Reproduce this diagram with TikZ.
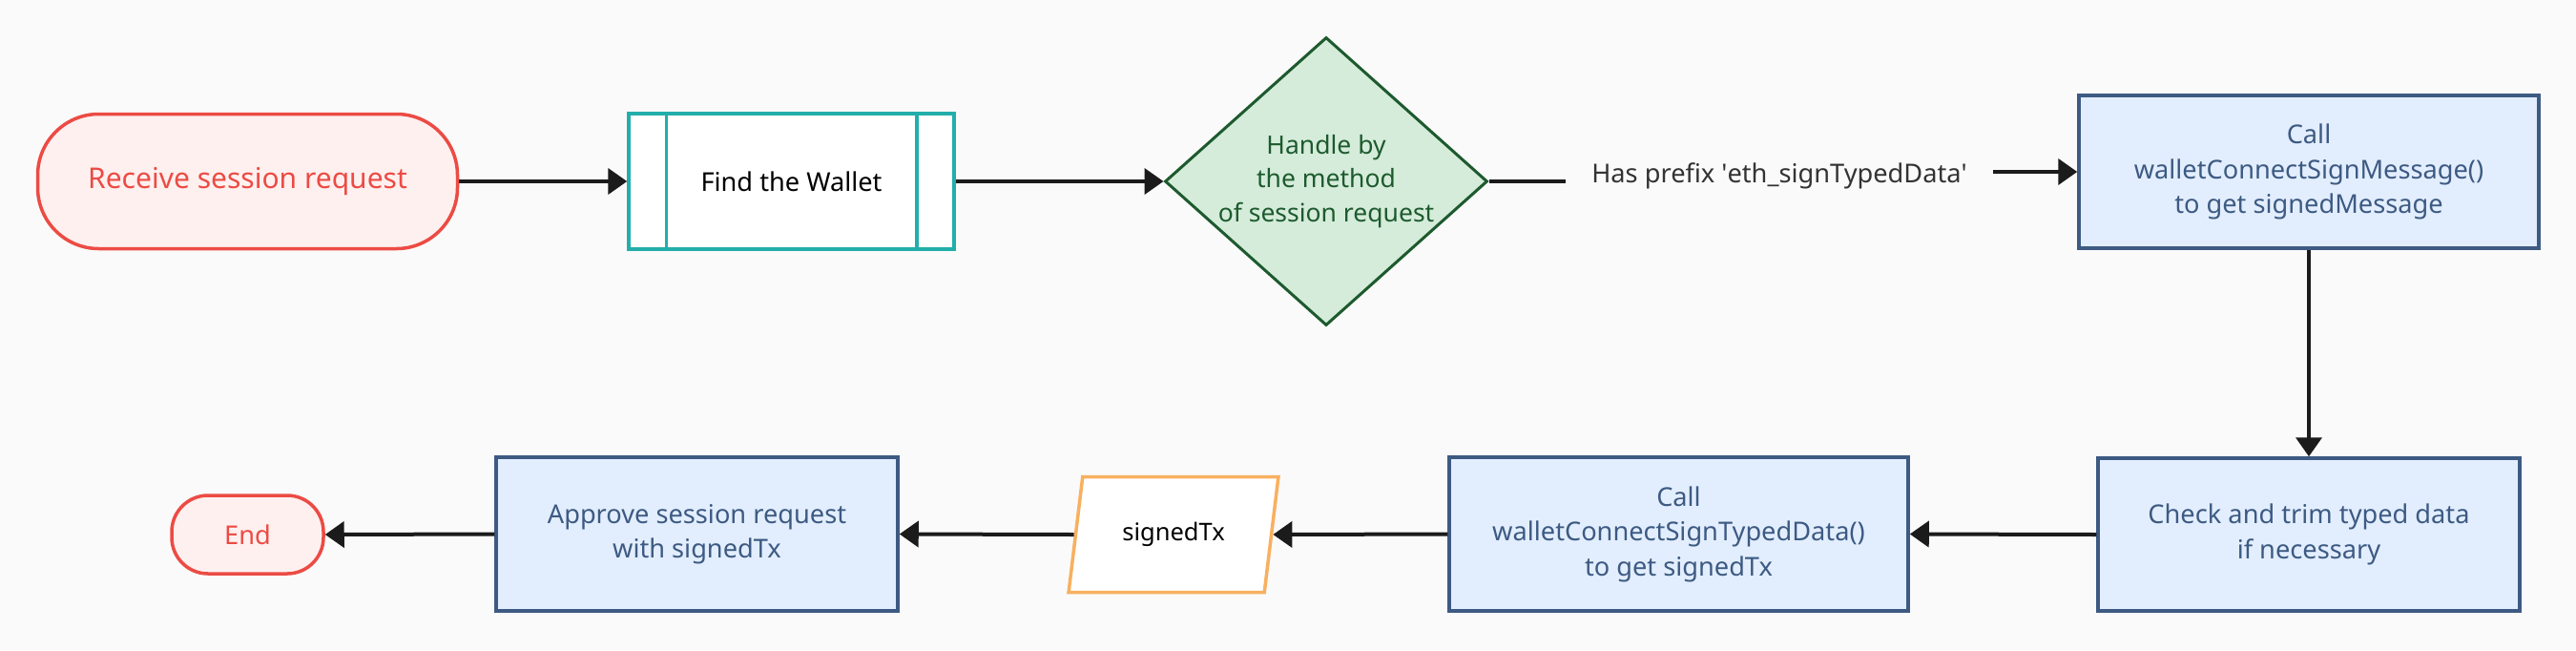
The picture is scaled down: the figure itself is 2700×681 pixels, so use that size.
\documentclass[tikz,border=0pt]{standalone}
\usepackage{fontspec}
\setmainfont{Noto Sans}
\usetikzlibrary{shapes.geometric,arrows.meta}
\definecolor{bgc}{HTML}{FAFAFA}
\definecolor{termred}{HTML}{EC4B44}
\definecolor{termfill}{HTML}{FEF0EF}
\definecolor{tealc}{HTML}{22AEAA}
\definecolor{greenc}{HTML}{1D5A2E}
\definecolor{greenfill}{HTML}{D5ECDA}
\definecolor{bluec}{HTML}{3D5A82}
\definecolor{bluefill}{HTML}{E2EEFE}
\definecolor{orangec}{HTML}{F8B060}
\definecolor{arrowc}{HTML}{1B1B1B}
\definecolor{lblc}{HTML}{333333}
\begin{document}
\begin{tikzpicture}[x=1pt,y=-1pt,
  every node/.style={font=\fontsize{27.2}{36.5}\selectfont, inner sep=0pt, align=center},
  term/.style={rectangle, draw=termred, fill=termfill, text=termred, line width=3.5pt},
  procbox/.style={rectangle, draw=bluec, fill=bluefill, text=bluec, line width=3.5pt},
  subproc/.style={rectangle, draw=tealc, fill=white, text=black, line width=3.5pt,
    minimum width=341pt, minimum height=142pt},
  subline/.style={draw=tealc, line width=3.5pt},
  decision/.style={diamond, draw=greenc, fill=greenfill, line width=3pt,
    minimum width=338pt, minimum height=302pt},
  dtext/.style={text=greenc, font=\fontsize{26.5}{35.5}\selectfont},
  lbl/.style={text=lblc, inner xsep=27pt, inner ysep=4pt},
  para/.style={trapezium, trapezium left angle=72, trapezium right angle=108,
    trapezium stretches=true, minimum width=220pt, minimum height=121pt,
    draw=orangec, fill=white, text=black, line width=3.5pt,
    font=\fontsize{25.5}{34}\selectfont},
  conn/.style={draw=arrowc, line width=4pt},
  arr/.style={conn, -{Triangle[length=20pt,width=27pt]}}
]
\useasboundingbox[fill=bgc] (0,0) rectangle (2700,681);

% top row
\node[term, minimum width=440pt, minimum height=141pt, rounded corners=64pt,
  font=\fontsize{30}{36}\selectfont] (start) at (259.5,190) {Receive session request};
\node[subproc] (wal) at (829.5,190) {Find the Wallet};
\draw[subline] ([xshift=41pt]wal.north west) -- ([xshift=41pt]wal.south west);
\draw[subline] ([xshift=-41pt]wal.north east) -- ([xshift=-41pt]wal.south east);
\node[decision] (dec) at (1390,190) {};
\node[dtext] (dect) at (dec.center) {Handle by\\the method\\of session request};
\node[lbl] (lb) at (1865,184) {Has prefix \textquotesingle eth\_signTypedData\textquotesingle};
\node[procbox, minimum width=482pt, minimum height=160pt] (sm) at (2420,180)
  {Call\\walletConnectSignMessage()\\to get signedMessage};

% bottom row
\node[procbox, minimum width=442pt, minimum height=160pt] (chk) at (2420,560)
  {Check and trim typed data\\if necessary};
\node[procbox, minimum width=481pt, minimum height=161pt] (std) at (1759.5,559.5)
  {Call\\walletConnectSignTypedData()\\to get signedTx};
\node[para] (tx) at (1230,560) {signedTx};
\node[procbox, minimum width=421pt, minimum height=161pt] (ap) at (730.5,559.5)
  {Approve session request\\with signedTx};
\node[term, minimum width=159pt, minimum height=82pt, rounded corners=38pt] (end) at (259.5,560) {End};

% connectors
\draw[arr] (start.east) -- (wal.west);
\draw[arr] (wal.east) -- (dec.west);
\draw[conn] (dec.east) -- (dec.east -| lb.west);
\draw[arr] (lb.east |- sm.west) -- (sm.west);
\draw[arr] (sm.south) -- (chk.north);
\draw[arr] (chk.west) -- (std.east);
\draw[arr] (std.west) -- (tx.right side);
\draw[arr] (tx.left side) -- (ap.east);
\draw[arr] (ap.west) -- (end.east);
\end{tikzpicture}
\end{document}
